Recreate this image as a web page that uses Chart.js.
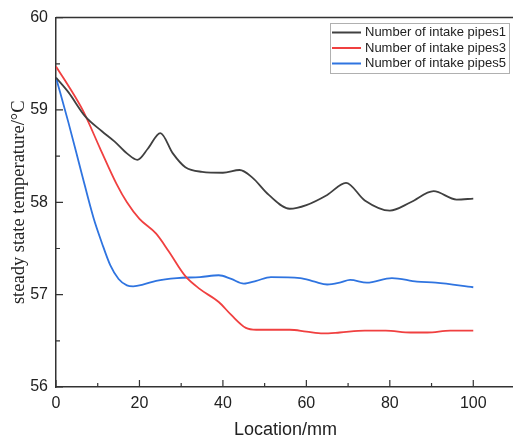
<!DOCTYPE html>
<html>
<head>
<meta charset="utf-8">
<script src="https://cdn.jsdelivr.net/npm/chart.js@4/dist/chart.umd.min.js"></script>
<style>
  html, body { margin: 0; padding: 0; background: #fff; overflow: hidden; }
  #wrap { width: 518px; height: 442px; }
</style>
</head>
<body>
<div id="wrap"><canvas id="myChart"></canvas></div>
<script>
// series (Location/mm -> temperature/°C)
const pipes1X = [0, 3, 7, 11, 14, 17, 19.5, 22, 25, 28, 31, 35, 40, 44, 47, 51, 56, 60, 65, 69.5, 74, 80, 85, 90.5, 96, 100];
const pipes1Y = [59.35, 59.19, 58.93, 58.77, 58.66, 58.53, 58.46, 58.58, 58.75, 58.53, 58.38, 58.33, 58.32, 58.35, 58.27, 58.08, 57.93, 57.97, 58.08, 58.21, 58.02, 57.91, 58.0, 58.12, 58.03, 58.04];

const pipes3X = [0, 3, 6.5, 10.5, 14.5, 17, 20, 24, 27, 31, 34.5, 39, 42, 45.5, 48, 52, 56, 60, 64, 68, 74, 79, 85, 89, 94.5, 100];
const pipes3Y = [59.47, 59.26, 58.99, 58.59, 58.2, 58.0, 57.82, 57.66, 57.47, 57.2, 57.06, 56.92, 56.78, 56.64, 56.62, 56.62, 56.62, 56.6, 56.58, 56.59, 56.61, 56.61, 56.59, 56.59, 56.61, 56.61];

const pipes5X = [0, 3, 6, 9, 11, 13, 15, 17, 18.5, 21, 24, 29, 34.5, 39, 42, 45, 48, 51.5, 58.5, 62, 65, 68, 70.5, 74.5, 80.5, 86.5, 91, 100];
const pipes5Y = [59.35, 58.86, 58.34, 57.83, 57.56, 57.32, 57.17, 57.1, 57.09, 57.11, 57.15, 57.18, 57.19, 57.21, 57.17, 57.12, 57.15, 57.19, 57.18, 57.14, 57.11, 57.13, 57.16, 57.13, 57.18, 57.14, 57.13, 57.08];

const seriesLabels = ['Number of intake pipes1', 'Number of intake pipes3', 'Number of intake pipes5'];
const seriesColors = ['#404040', '#f04040', '#2f74e0'];

const xTicks = [0, 20, 40, 60, 80, 100];
const xMinor = [10, 30, 50, 70, 90];
const yTicks = [56, 57, 58, 59, 60];
const yMinor = [56.5, 57.5, 58.5, 59.5];

const toPoints = (xs, ys) => xs.map((x, i) => ({ x: x, y: ys[i] }));

// frame, inward ticks and boxed legend
const framePlugin = {
  id: 'frame',
  afterDatasetsDraw(chart) {
    const ctx = chart.ctx;
    const area = chart.chartArea;
    const xs = chart.scales.x;
    const ys = chart.scales.y;
    ctx.save();
    ctx.strokeStyle = '#333';
    ctx.lineWidth = 1.5;
    ctx.beginPath();
    ctx.moveTo(area.left, area.top);
    ctx.lineTo(area.right, area.top);
    ctx.lineTo(area.right, area.bottom);
    ctx.stroke();

    ctx.lineWidth = 1.2;
    ctx.beginPath();
    xTicks.forEach(v => {
      const px = xs.getPixelForValue(v);
      ctx.moveTo(px, area.bottom); ctx.lineTo(px, area.bottom - 7);
    });
    xMinor.forEach(v => {
      const px = xs.getPixelForValue(v);
      ctx.moveTo(px, area.bottom); ctx.lineTo(px, area.bottom - 4);
    });
    yTicks.forEach(v => {
      const py = ys.getPixelForValue(v);
      ctx.moveTo(area.left, py); ctx.lineTo(area.left + 7, py);
    });
    yMinor.forEach(v => {
      const py = ys.getPixelForValue(v);
      ctx.moveTo(area.left, py); ctx.lineTo(area.left + 4, py);
    });
    ctx.stroke();

    // legend box
    const lx = 330, ly = 23, lw = 179, lh = 50;
    ctx.fillStyle = '#fff';
    ctx.fillRect(lx, ly, lw, lh);
    ctx.strokeStyle = '#b0b0b0';
    ctx.lineWidth = 1;
    ctx.strokeRect(lx + 0.5, ly + 0.5, lw, lh);
    ctx.font = '13px "Liberation Sans", Arial, sans-serif';
    ctx.textBaseline = 'middle';
    chart.data.datasets.forEach((ds, i) => {
      const cy = ly + 9.5 + i * 15.5;
      ctx.strokeStyle = ds.borderColor;
      ctx.lineWidth = 2;
      ctx.beginPath();
      ctx.moveTo(lx + 2, cy); ctx.lineTo(lx + 31, cy);
      ctx.stroke();
      ctx.fillStyle = '#222';
      ctx.fillText(ds.label, lx + 35, cy);
    });
    ctx.restore();
  }
};

const ctx = document.getElementById('myChart').getContext('2d');
const myChart = new Chart(ctx, {
  type: 'line',
  data: {
    datasets: [
      { label: seriesLabels[0], data: toPoints(pipes1X, pipes1Y), borderColor: seriesColors[0] },
      { label: seriesLabels[1], data: toPoints(pipes3X, pipes3Y), borderColor: seriesColors[1] },
      { label: seriesLabels[2], data: toPoints(pipes5X, pipes5Y), borderColor: seriesColors[2] }
    ]
  },
  options: {
    responsive: true,
    maintainAspectRatio: false,
    animation: false,
    layout: { padding: { top: 8, right: 3, bottom: 0, left: 0 } },
    elements: {
      point: { radius: 0 },
      line: { borderWidth: 1.8, cubicInterpolationMode: 'monotone', fill: false }
    },
    plugins: {
      legend: { display: false },
      tooltip: { enabled: false }
    },
    scales: {
      x: {
        type: 'linear',
        min: 0,
        max: 110,
        afterBuildTicks: scale => { scale.ticks = xTicks.map(v => ({ value: v })); },
        afterFit: scale => { scale.height = 55; },
        grid: { drawOnChartArea: false, drawTicks: false },
        border: { color: '#333', width: 1.5 },
        ticks: {
          padding: 7,
          color: '#222',
          font: { family: '"Liberation Sans", Arial, sans-serif', size: 16 }
        },
        title: {
          display: true,
          text: 'Location/mm',
          color: '#222',
          padding: { top: 0, bottom: 1 },
          font: { family: '"Liberation Sans", Arial, sans-serif', size: 18 }
        }
      },
      y: {
        min: 56,
        max: 60,
        afterBuildTicks: scale => { scale.ticks = yTicks.map(v => ({ value: v })); },
        afterFit: scale => { scale.width = 56; },
        grid: { drawOnChartArea: false, drawTicks: false },
        border: { color: '#333', width: 1.5 },
        ticks: {
          padding: 8,
          color: '#222',
          font: { family: '"Liberation Sans", Arial, sans-serif', size: 16 }
        },
        title: {
          display: true,
          text: 'steady state temperature/°C',
          color: '#222',
          padding: { top: 8, bottom: 0 },
          font: { family: '"Liberation Serif", "Times New Roman", serif', size: 18.5 }
        }
      }
    }
  },
  plugins: [framePlugin]
});
</script>
</body>
</html>
